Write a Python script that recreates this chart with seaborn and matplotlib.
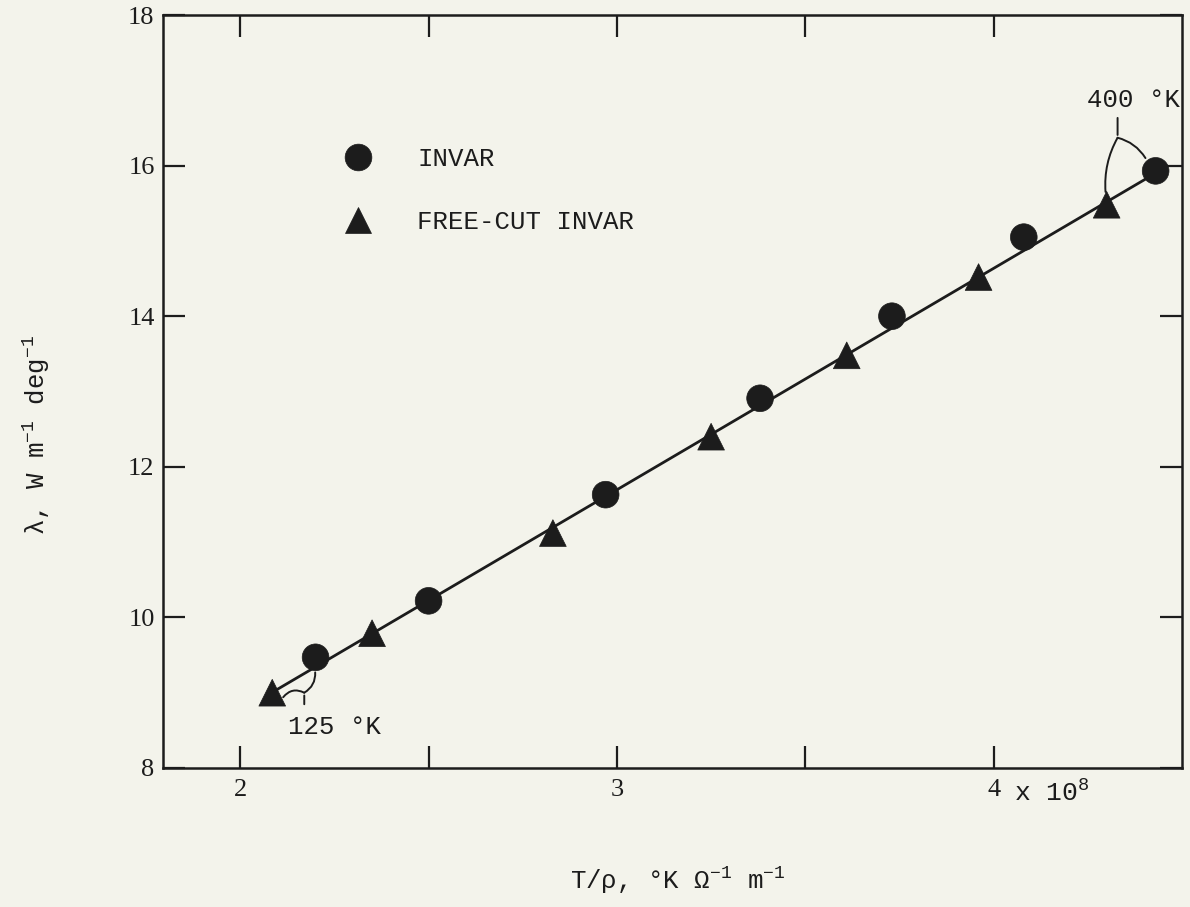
import numpy as np
import matplotlib
matplotlib.use("Agg")
import matplotlib.pyplot as plt
import pandas as pd
import seaborn as sns

# values (x in units of 1e8)
invar_x = [2.20, 2.50, 2.97, 3.38, 3.73, 4.08, 4.43]
invar_y = [9.47, 10.22, 11.63, 12.91, 14.00, 15.05, 15.93]
freecut_x = [2.085, 2.35, 2.83, 3.25, 3.61, 3.96, 4.30]
freecut_y = [9.00, 9.79, 11.12, 12.40, 13.48, 14.52, 15.48]
fit_x = [2.08, 4.43]
fit_y = [8.99, 15.90]

x_ticks = [2, 2.5, 3, 3.5, 4]
x_ticklabels = ["2", "", "3", "", "4"]
y_ticks = [8, 10, 12, 14, 16, 18]

paper = "#f3f3eb"
ink = "#1c1c1c"
mono = "Liberation Mono"
serif = "Liberation Serif"

sns.set_theme(style="ticks")
plt.rcParams["mathtext.fontset"] = "custom"
plt.rcParams["mathtext.rm"] = mono
plt.rcParams["mathtext.it"] = mono
plt.rcParams["font.family"] = [mono, "DejaVu Sans"]

df = pd.DataFrame({
    "x": invar_x + freecut_x,
    "y": invar_y + freecut_y,
    "material": ["INVAR"] * len(invar_x) + ["FREE-CUT INVAR"] * len(freecut_x),
})
fit = pd.DataFrame({"x": fit_x, "y": fit_y})

fig = plt.figure(figsize=(11.9, 9.07), dpi=100, facecolor=paper)
ax = fig.add_axes([163 / 1190, 1 - 768 / 907, 1019 / 1190, 753 / 907])
ax.set_facecolor(paper)

sns.lineplot(data=fit, x="x", y="y", color=ink, lw=2.0, ax=ax, zorder=2)
sns.scatterplot(data=df, x="x", y="y", style="material",
                markers={"INVAR": "o", "FREE-CUT INVAR": "^"},
                color=ink, s=370, edgecolor=ink, linewidth=0.5, ax=ax, zorder=3)

ax.set_xlim(1.795, 4.50)
ax.set_ylim(8, 18)
ax.set_xticks(x_ticks)
ax.set_xticklabels(x_ticklabels, fontfamily=serif, fontsize=19)
ax.set_yticks(y_ticks)
ax.set_yticklabels([str(v) for v in y_ticks], fontfamily=serif, fontsize=19)
ax.tick_params(direction="in", length=16, width=1.6, color=ink,
               top=True, right=True, labelcolor=ink)
ax.tick_params(axis="x", pad=8)
ax.tick_params(axis="y", pad=6)
for sp in ax.spines.values():
    sp.set_linewidth(1.8)
    sp.set_color(ink)

# the "x 10^8" multiplier sits right after the 4, on the same baseline
ax.annotate(r"x 10$^{8}$", xy=(4, 0), xycoords=("data", "axes fraction"),
            xytext=(15, -23.5), textcoords="offset points", ha="left", va="baseline",
            fontsize=19, color=ink)

ax.set_xlabel(r"T/ρ, °K Ω$^{-1}$ m$^{-1}$", fontsize=18.5, color=ink, va="center")
ax.xaxis.set_label_coords(0.505, -0.149)
ax.set_ylabel(r"λ, W m$^{-1}$ deg$^{-1}$", fontsize=18.5, color=ink, va="center")
ax.yaxis.set_label_coords(-0.124, 0.442)

sns.move_legend(ax, "upper left", bbox_to_anchor=(0.156, 0.856), frameon=False,
                title=None, prop={"family": mono, "size": 18.5},
                handlelength=1.0, handletextpad=1.8, labelspacing=1.53,
                labelcolor=ink)

# temperature brackets
def bracket(stem, split, ends):
    ax.annotate("", xy=split, xytext=stem,
                arrowprops=dict(arrowstyle="-", color=ink, lw=1.4))
    for end, rad in ends:
        ax.annotate("", xy=end, xytext=split,
                    arrowprops=dict(arrowstyle="-", color=ink, lw=1.4,
                                    connectionstyle=f"arc3,rad={rad}",
                                    shrinkA=0, shrinkB=0))

bracket((2.170, 8.81), (2.170, 9.00), [((2.199, 9.27), 0.3), ((2.114, 8.94), 0.4)])
bracket((4.329, 16.67), (4.329, 16.37), [((4.297, 15.65), 0.15), ((4.403, 16.10), -0.2)])

ax.text(2.127, 8.545, "125 °K", fontsize=18.5, color=ink, va="center", ha="left")
ax.text(4.249, 16.87, "400 °K", fontsize=18.5, color=ink, va="center", ha="left",
        clip_on=True)

fig.savefig("out.png", dpi=100, facecolor=paper)
